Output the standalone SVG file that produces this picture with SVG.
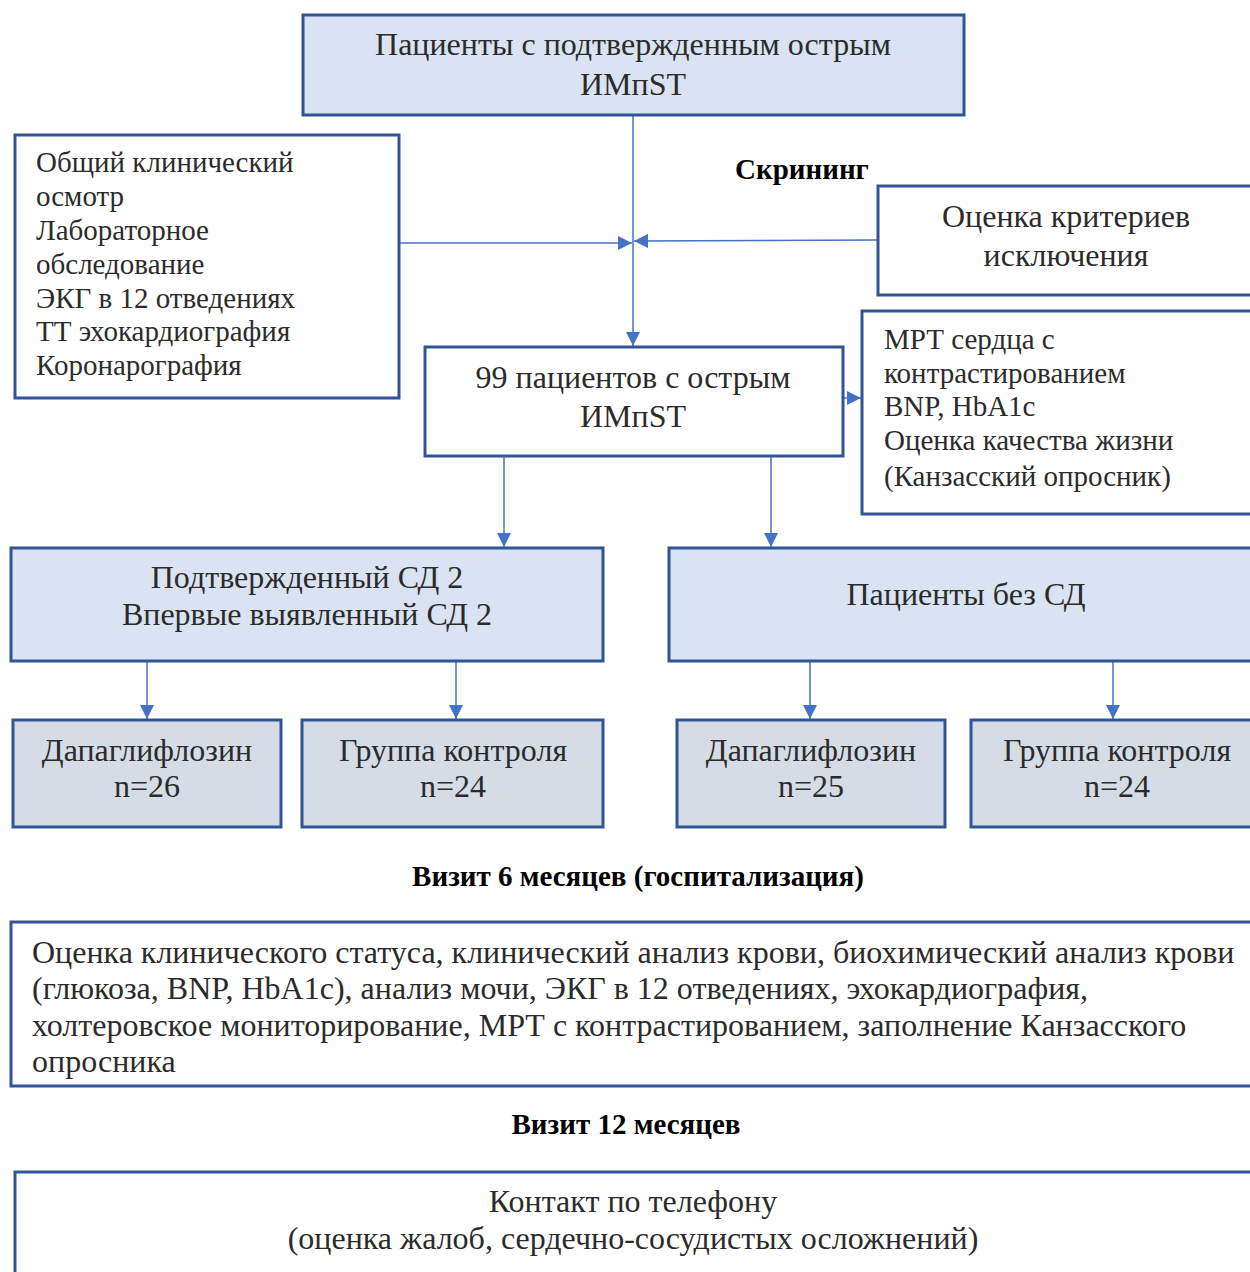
<svg xmlns="http://www.w3.org/2000/svg" width="1250" height="1272" viewBox="0 0 1250 1272">
<defs>
<marker id="ah2" markerWidth="14" markerHeight="14" refX="14" refY="7" orient="auto" markerUnits="userSpaceOnUse" viewBox="0 0 14 14">
<path d="M0,0 L14,7 L0,14 z" fill="#4472C4"/>
</marker>
</defs>
<style>
.box{stroke:#2F5597;stroke-width:3}
.blue{fill:#DAE3F3}
.grey{fill:#D6DCE5}
.white{fill:#FFFFFF}
text{font-family:"Liberation Serif","Times New Roman",serif;font-size:32px;fill:#2B2B2B}
.s{font-size:29px}
.c{text-anchor:middle}
.b{font-weight:bold;fill:#000;font-size:29px}
.conn{stroke:#4472C4;stroke-width:1.5;fill:none;marker-end:url(#ah2)}
</style>
<rect width="1250" height="1272" fill="#FFFFFF"/>
<g id="connectors">
<line class="conn" x1="633" y1="115" x2="633" y2="346"/>
<line class="conn" x1="399" y1="243" x2="632" y2="243"/>
<line class="conn" x1="878" y1="240" x2="634" y2="241"/>
<line class="conn" x1="843" y1="398" x2="861" y2="398"/>
<line class="conn" x1="504" y1="456" x2="504" y2="547"/>
<line class="conn" x1="771" y1="456" x2="771" y2="547"/>
<line class="conn" x1="147" y1="661" x2="147" y2="719"/>
<line class="conn" x1="456" y1="661" x2="456" y2="719"/>
<line class="conn" x1="810" y1="661" x2="810" y2="719"/>
<line class="conn" x1="1113" y1="661" x2="1113" y2="719"/>
</g>
<g id="top">
<rect class="box blue" x="303" y="15" width="661" height="100"/>
<text class="c" x="633" y="55">Пациенты с подтвержденным острым</text>
<text class="c" x="633" y="95">ИМпST</text>
</g>
<g id="exam">
<rect class="box white" x="15" y="135" width="384" height="263"/>
<text class="s" x="36" y="172">Общий клинический</text>
<text class="s" x="36" y="206">осмотр</text>
<text class="s" x="36" y="240">Лабораторное</text>
<text class="s" x="36" y="274">обследование</text>
<text class="s" x="36" y="308">ЭКГ в 12 отведениях</text>
<text class="s" x="36" y="341">ТТ эхокардиография</text>
<text class="s" x="36" y="375">Коронарография</text>
</g>
<g id="screening-label">
<text class="b" x="735" y="179">Скрининг</text>
</g>
<g id="exclusion">
<rect class="box white" x="878" y="186" width="380" height="109"/>
<text class="c" x="1066" y="227">Оценка критериев</text>
<text class="c" x="1066" y="266">исключения</text>
</g>
<g id="patients99">
<rect class="box white" x="425" y="347" width="418" height="109"/>
<text class="c" x="633" y="388">99 пациентов с острым</text>
<text class="c" x="633" y="427">ИМпST</text>
</g>
<g id="mri">
<rect class="box white" x="862" y="311" width="396" height="203"/>
<text class="s" x="884" y="349">МРТ сердца с</text>
<text class="s" x="884" y="383">контрастированием</text>
<text class="s" x="884" y="416">BNP, HbA1c</text>
<text class="s" x="884" y="450">Оценка качества жизни</text>
<text class="s" x="884" y="486">(Канзасский опросник)</text>
</g>
<g id="dm">
<rect class="box blue" x="11" y="548" width="592" height="113"/>
<text class="c" x="307" y="588">Подтвержденный СД 2</text>
<text class="c" x="307" y="625">Впервые выявленный СД 2</text>
</g>
<g id="nodm">
<rect class="box blue" x="669" y="548" width="589" height="113"/>
<text class="c" x="966" y="605">Пациенты без СД</text>
</g>
<g id="dapa1">
<rect class="box grey" x="13" y="720" width="268" height="107"/>
<text class="c" x="147" y="761">Дапаглифлозин</text>
<text class="c" x="147" y="797">n=26</text>
</g>
<g id="ctrl1">
<rect class="box grey" x="302" y="720" width="301" height="107"/>
<text class="c" x="453" y="761">Группа контроля</text>
<text class="c" x="453" y="797">n=24</text>
</g>
<g id="dapa2">
<rect class="box grey" x="677" y="720" width="268" height="107"/>
<text class="c" x="811" y="761">Дапаглифлозин</text>
<text class="c" x="811" y="797">n=25</text>
</g>
<g id="ctrl2">
<rect class="box grey" x="971" y="720" width="287" height="107"/>
<text class="c" x="1117" y="761">Группа контроля</text>
<text class="c" x="1117" y="797">n=24</text>
</g>
<g id="visit6-label">
<text class="c b" x="638" y="886">Визит 6 месяцев (госпитализация)</text>
</g>
<g id="visit6">
<rect class="box white" x="11" y="922" width="1247" height="164"/>
<text x="32" y="963">Оценка клинического статуса, клинический анализ крови, биохимический анализ крови</text>
<text x="32" y="999">(глюкоза, BNP, HbA1c), анализ мочи, ЭКГ в 12 отведениях, эхокардиография,</text>
<text x="32" y="1036">холтеровское мониторирование, МРТ с контрастированием, заполнение Канзасского</text>
<text x="32" y="1072">опросника</text>
</g>
<g id="visit12-label">
<text class="c b" x="626" y="1134">Визит 12 месяцев</text>
</g>
<g id="visit12">
<rect class="box white" x="15" y="1172" width="1243" height="110"/>
<text class="c" x="633" y="1212">Контакт по телефону</text>
<text class="c" x="633" y="1249">(оценка жалоб, сердечно-сосудистых осложнений)</text>
</g>
</svg>
